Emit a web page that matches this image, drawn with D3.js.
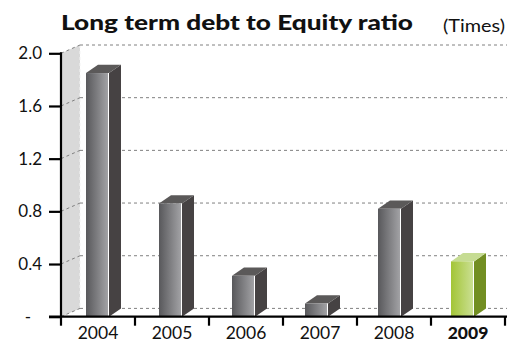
<!DOCTYPE html>
<html>
<head>
<meta charset="utf-8">
<script src="https://cdn.jsdelivr.net/npm/d3@7"></script>
<style>
  html, body { margin: 0; padding: 0; background: #fff; }
  svg { display: block; font-family: Lato, "Open Sans", sans-serif; }
</style>
</head>
<body>
<svg id="chart" width="511" height="344"></svg>
<script>
// Long term debt to equity ratio, by year
const years = ["2004", "2005", "2006", "2007", "2008", "2009"];
const ratios = [1.85, 0.86, 0.31, 0.10, 0.82, 0.42];
const yTicks = [0, 0.4, 0.8, 1.2, 1.6, 2.0];
const highlightYear = "2009";

const svg = d3.select("#chart");

// Plot geometry
const plotLeft = 61, plotRight = 505, plotTop = 53.3, plotBottom = 316.7;
const wallDx = 19, wallDy = 8.3;   // depth of the back wall
const barDx = 12, barDy = 8.3;     // depth of each column

const y = d3.scaleLinear().domain([0, 2]).range([plotBottom, plotTop]);
const xCat = d3.scaleBand().domain(years).range([plotLeft, plotRight]);
const xBar = d3.scaleBand().domain(years).range([plotLeft, plotLeft + 73 * years.length]);

// Title
svg.append("text")
  .attr("x", 61).attr("y", 29.5)
  .attr("font-size", 20.5).attr("font-weight", 900)
  .attr("textLength", 352).attr("lengthAdjust", "spacingAndGlyphs")
  .attr("fill", "#111")
  .text("Long term debt to Equity ratio");
svg.append("text")
  .attr("x", 443).attr("y", 31.5)
  .attr("font-size", 16.5)
  .attr("textLength", 62).attr("lengthAdjust", "spacingAndGlyphs")
  .attr("fill", "#111")
  .text("(Times)");

// Back wall (left side panel)
svg.append("path")
  .attr("d", `M${plotLeft},${plotBottom}L${plotLeft},${plotTop}L${plotLeft + wallDx},${plotTop - wallDy}L${plotLeft + wallDx},${plotBottom - wallDy}Z`)
  .attr("fill", "#d9d9d9");
svg.append("line")
  .attr("x1", plotLeft + wallDx).attr("x2", plotLeft + wallDx)
  .attr("y1", plotTop - wallDy).attr("y2", plotBottom - wallDy)
  .attr("stroke", "#f4f4f4").attr("stroke-width", 1).attr("stroke-dasharray", "3,3");

// Gridlines: diagonal across the wall, then straight along the back
const grid = svg.append("g").attr("stroke", "#808080").attr("stroke-width", 1)
  .attr("stroke-dasharray", "3,3").attr("fill", "none");
yTicks.forEach(v => {
  grid.append("line")
    .attr("x1", plotLeft).attr("y1", y(v))
    .attr("x2", plotLeft + wallDx).attr("y2", y(v) - wallDy);
  grid.append("line")
    .attr("x1", plotLeft + wallDx).attr("y1", y(v) - wallDy)
    .attr("x2", 507).attr("y2", y(v) - wallDy);
});

// Face shading
const defs = svg.append("defs");
function frontGradient(id, c0, c1) {
  const g = defs.append("linearGradient").attr("id", id)
    .attr("x1", "0%").attr("x2", "100%").attr("y1", "0%").attr("y2", "0%");
  g.append("stop").attr("offset", "0%").attr("stop-color", c0);
  g.append("stop").attr("offset", "100%").attr("stop-color", c1);
}
frontGradient("frontGrey", "#58585b", "#a2a2a5");
frontGradient("frontGreen", "#a3c536", "#cadf92");

const palette = {
  grey:  { front: "url(#frontGrey)",  side: "#464243", top: "#5b5959" },
  green: { front: "url(#frontGreen)", side: "#728e22", top: "#c6dc93" }
};

// Columns
const data = years.map((yr, i) => ({ year: yr, value: ratios[i] }));
const bars = svg.append("g").selectAll("g").data(data).join("g");
const barW = 22, barOff = 25;

bars.each(function (d) {
  const g = d3.select(this);
  const c = d.year === highlightYear ? palette.green : palette.grey;
  const x0 = xBar(d.year) + barOff, x1 = x0 + barW;
  const yt = y(d.value), yb = y(0);
  // side face
  g.append("path")
    .attr("d", `M${x1 + 1},${yb}L${x1 + 1},${yt}L${x1 + 1 + barDx},${yt - barDy}L${x1 + 1 + barDx},${yb - barDy}Z`)
    .attr("fill", c.side);
  // top face
  g.append("path")
    .attr("d", `M${x0},${yt}L${x1 + 1},${yt}L${x1 + 1 + barDx},${yt - barDy}L${x0 + barDx},${yt - barDy}Z`)
    .attr("fill", c.top);
  // front face
  g.append("rect")
    .attr("x", x0).attr("y", yt)
    .attr("width", barW).attr("height", yb - yt)
    .attr("fill", c.front);
  // thin highlight between front and side
  g.append("line")
    .attr("x1", x1 + 0.5).attr("x2", x1 + 0.5)
    .attr("y1", yt).attr("y2", yb)
    .attr("stroke", "#ffffff").attr("stroke-width", 1);
});

// Y axis
const yAxis = svg.append("g")
  .attr("transform", `translate(${plotLeft},0)`)
  .call(d3.axisLeft(y).tickValues(yTicks).tickSize(12).tickSizeOuter(0).tickPadding(7)
    .tickFormat(v => v === 0 ? "-" : d3.format(".1f")(v)));
yAxis.select(".domain").remove();
yAxis.selectAll(".tick line").attr("stroke", "#000").attr("stroke-width", 2.2);
yAxis.selectAll(".tick text")
  .attr("font-size", 17).attr("fill", "#111")
  .attr("font-family", "Lato, sans-serif")
  .attr("dx", v => v === 0 ? -11 : 0);
svg.append("line")
  .attr("x1", plotLeft).attr("x2", plotLeft)
  .attr("y1", plotTop - 1).attr("y2", plotBottom)
  .attr("stroke", "#000").attr("stroke-width", 2.2);

// X axis baseline with category boundary ticks
svg.append("line")
  .attr("x1", 49).attr("x2", 507)
  .attr("y1", plotBottom).attr("y2", plotBottom)
  .attr("stroke", "#000").attr("stroke-width", 2.2);
const bounds = years.map(yr => xCat(yr)).concat([xCat(years[years.length - 1]) + xCat.bandwidth()]);
svg.append("g").selectAll("line").data(bounds).join("line")
  .attr("x1", d => d).attr("x2", d => d)
  .attr("y1", plotBottom).attr("y2", plotBottom + 9)
  .attr("stroke", "#000").attr("stroke-width", 2.2);

const xAxis = svg.append("g")
  .attr("transform", `translate(0,${plotBottom})`)
  .call(d3.axisBottom(xCat).tickSize(0).tickPadding(0));
xAxis.select(".domain").remove();
xAxis.selectAll(".tick text")
  .attr("y", 22.5).attr("dy", 0)
  .attr("font-size", 17.5).attr("fill", "#111")
  .attr("font-family", "Lato, sans-serif")
  .attr("font-weight", d => d === highlightYear ? 900 : 400);
</script>
</body>
</html>
